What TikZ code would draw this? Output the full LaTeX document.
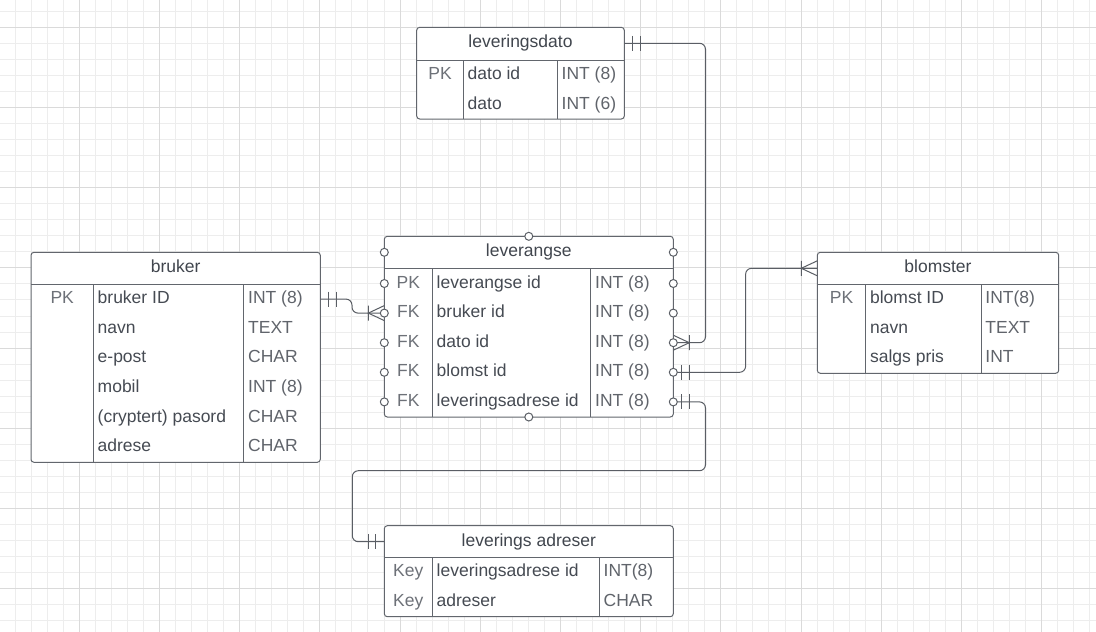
\documentclass[tikz,border=0pt]{standalone}
\usepackage{fontspec}
\setmainfont{Liberation Sans}
\usepackage{tikz}

\definecolor{gridminor}{HTML}{EDEDED}
\definecolor{gridmajor}{HTML}{DADADA}
\definecolor{edge}{HTML}{5A5E65}
\definecolor{tbledge}{HTML}{62666D}
\definecolor{ttlc}{HTML}{41464E}
\definecolor{fldc}{HTML}{464B53}
\definecolor{keyc}{HTML}{6D7178}
\definecolor{typc}{HTML}{60646B}

\tikzset{
  tbl/.style={draw=tbledge, line width=1, rounded corners=3, fill=white,
    inner sep=0, outer sep=0, anchor=north west},
  divider/.style={draw=tbledge, line width=1},
  ttl/.style={text=ttlc, inner sep=0, text height=12.5, text depth=3.2},
  keytxt/.style={text=keyc, inner sep=0, text height=12.5, text depth=3.2},
  fld/.style={text=fldc, anchor=west, inner sep=0, text height=12.5, text depth=3.2},
  typ/.style={text=typc, anchor=west, inner sep=0, text height=12.5, text depth=3.2},
  conn/.style={draw=edge, line width=1, rounded corners=6},
  barline/.style={draw=edge, line width=1},
  port/.style={circle, draw=edge, line width=1, fill=white, inner sep=0, minimum size=8},
  pics/twobar/.style={code={
    \draw[barline] (8.5,-7.5) -- (8.5,7.5) (16,-7.5) -- (16,7.5);}},
  pics/crowfoot/.style={code={
    \draw[barline] (16,-7.5) -- (16,7.5) (0,-7.5) -- (16,0) -- (0,7.5);}},
}

\begin{document}
\begin{tikzpicture}[x=1pt, y=-1pt, font=\fontsize{17.5}{21}\selectfont]
  \useasboundingbox[fill=white] (0,0) rectangle (1096,632);

  % grid
  \foreach \k in {0,...,67}
    \draw[gridminor, line width=1] ({15.1+16.04*\k},0) -- ++(0,632);
  \foreach \k in {0,...,38}
    \draw[gridminor, line width=1] (0,{11.26+16.04*\k}) -- ++(1096,0);
  \foreach \k in {4,9,...,64}
    \draw[gridmajor, line width=1] ({15.1+16.04*\k},0) -- ++(0,632);
  \foreach \k in {1,6,...,36}
    \draw[gridmajor, line width=1] (0,{11.26+16.04*\k}) -- ++(1096,0);

  % leveringsdato
  \node[tbl, minimum width=207.6, minimum height=91.7] (lvd) at (416.7,27.3) {};
  \draw[divider] (416.7,60) -- (624.3,60) (463.3,60) -- (463.3,119) (557.3,60) -- (557.3,119);
  \node[ttl] (lvdt) at (520.5,43.3) {leveringsdato};
  \node[keytxt] (lvd1k) at (440,74.8) {PK};
  \node[fld] (lvd1) at (467.5,74.8) {dato id};
  \node[typ] (lvd1t) at (561.5,74.8) {INT (8)};
  \node[fld] (lvd2) at (467.5,104.4) {dato};
  \node[typ] (lvd2t) at (561.5,104.4) {INT (6)};

  % bruker
  \node[tbl, minimum width=289.3, minimum height=210] (bk) at (31,252.3) {};
  \draw[divider] (31,284.3) -- (320.3,284.3) (93.3,284.3) -- (93.3,462.3) (243.7,284.3) -- (243.7,462.3);
  \node[ttl] (bkt) at (175.65,268.3) {bruker};
  \node[keytxt] (bk1k) at (62.2,299.1) {PK};
  \node[fld] (bk1) at (97.5,299.1) {bruker ID};
  \node[typ] (bk1t) at (248,299.1) {INT (8)};
  \node[fld] (bk2) at (97.5,328.7) {navn};
  \node[typ] (bk2t) at (248,328.7) {TEXT};
  \node[fld] (bk3) at (97.5,358.3) {e-post};
  \node[typ] (bk3t) at (248,358.3) {CHAR};
  \node[fld] (bk4) at (97.5,387.9) {mobil};
  \node[typ] (bk4t) at (248,387.9) {INT (8)};
  \node[fld] (bk5) at (97.5,417.5) {(cryptert) pasord};
  \node[typ] (bk5t) at (248,417.5) {CHAR};
  \node[fld] (bk6) at (97.5,447.1) {adrese};
  \node[typ] (bk6t) at (248,447.1) {CHAR};

  % leverangse
  \node[tbl, minimum width=289, minimum height=180.7] (lv) at (384.3,236.3) {};
  \draw[divider] (384.3,268.7) -- (673.3,268.7) (432.3,268.7) -- (432.3,417) (590.7,268.7) -- (590.7,417);
  \node[ttl] (lvt) at (528.8,252.3) {leverangse};
  \node[keytxt] (lv1k) at (408.3,283.5) {PK};
  \node[fld] (lv1) at (436.5,283.5) {leverangse id};
  \node[typ] (lv1t) at (595,283.5) {INT (8)};
  \node[keytxt] (lv2k) at (408.3,313.1) {FK};
  \node[fld] (lv2) at (436.5,313.1) {bruker id};
  \node[typ] (lv2t) at (595,313.1) {INT (8)};
  \node[keytxt] (lv3k) at (408.3,342.7) {FK};
  \node[fld] (lv3) at (436.5,342.7) {dato id};
  \node[typ] (lv3t) at (595,342.7) {INT (8)};
  \node[keytxt] (lv4k) at (408.3,372.3) {FK};
  \node[fld] (lv4) at (436.5,372.3) {blomst id};
  \node[typ] (lv4t) at (595,372.3) {INT (8)};
  \node[keytxt] (lv5k) at (408.3,401.9) {FK};
  \node[fld] (lv5) at (436.5,401.9) {leveringsadrese id};
  \node[typ] (lv5t) at (595,401.9) {INT (8)};

  % blomster
  \node[tbl, minimum width=241.4, minimum height=121] (blm) at (817.3,252.3) {};
  \draw[divider] (817.3,284.3) -- (1058.7,284.3) (865.7,284.3) -- (865.7,373.3) (981,284.3) -- (981,373.3);
  \node[ttl] (blmt) at (938,268.3) {blomster};
  \node[keytxt] (blm1k) at (841.5,299.1) {PK};
  \node[fld] (blm1) at (869.9,299.1) {blomst ID};
  \node[typ] (blm1t) at (985.2,299.1) {INT(8)};
  \node[fld] (blm2) at (869.9,328.7) {navn};
  \node[typ] (blm2t) at (985.2,328.7) {TEXT};
  \node[fld] (blm3) at (869.9,358.3) {salgs pris};
  \node[typ] (blm3t) at (985.2,358.3) {INT};

  % leverings adreser
  \node[tbl, minimum width=289, minimum height=91] (lad) at (384.3,525.7) {};
  \draw[divider] (384.3,557.3) -- (673.3,557.3) (432.3,557.3) -- (432.3,616.7) (599.3,557.3) -- (599.3,616.7);
  \node[ttl] (ladt) at (528.8,541.7) {leverings adreser};
  \node[keytxt] (lad1k) at (408.3,572.1) {Key};
  \node[fld] (lad1) at (436.5,572.1) {leveringsadrese id};
  \node[typ] (lad1t) at (603.5,572.1) {INT(8)};
  \node[keytxt] (lad2k) at (408.3,601.7) {Key};
  \node[fld] (lad2) at (436.5,601.7) {adreser};
  \node[typ] (lad2t) at (603.5,601.7) {CHAR};

  % relations
  \draw[conn] (bk.east |- bk1) -- ++(31.7,0) |- (lv.west |- lv2);
  \draw[conn] (lvd.east |- lvdt) -- ++(81.2,0) |- (lv.east |- lv3);
  \draw[conn] (lv.east |- lv4) -- ++(72.3,0) |- (blm.west |- blmt);
  \draw[conn] (lv.east |- lv5) -- ++(32.2,0) -- ++(0,68.8) -| ([xshift=-32]lad.west |- ladt) -- (lad.west |- ladt);

  \pic at (bk.east |- bk1) {twobar};
  \pic[xscale=-1] at (lv.west |- lv2) {crowfoot};
  \pic at (lvd.east |- lvdt) {twobar};
  \pic at (lv.east |- lv3) {crowfoot};
  \pic at (lv.east |- lv4) {twobar};
  \pic[xscale=-1] at (blm.west |- blmt) {crowfoot};
  \pic at (lv.east |- lv5) {twobar};
  \pic[xscale=-1] at (lad.west |- ladt) {twobar};

  % connection points
  \foreach \r in {lvt,lv1,lv2,lv3,lv4,lv5}{
    \node[port] (pl-\r) at (lv.west |- \r) {};
    \node[port] (pr-\r) at (lv.east |- \r) {};
  }
  \node[port] (pt-lv) at (lv.north) {};
  \node[port] (pb-lv) at (lv.south) {};
\end{tikzpicture}
\end{document}
